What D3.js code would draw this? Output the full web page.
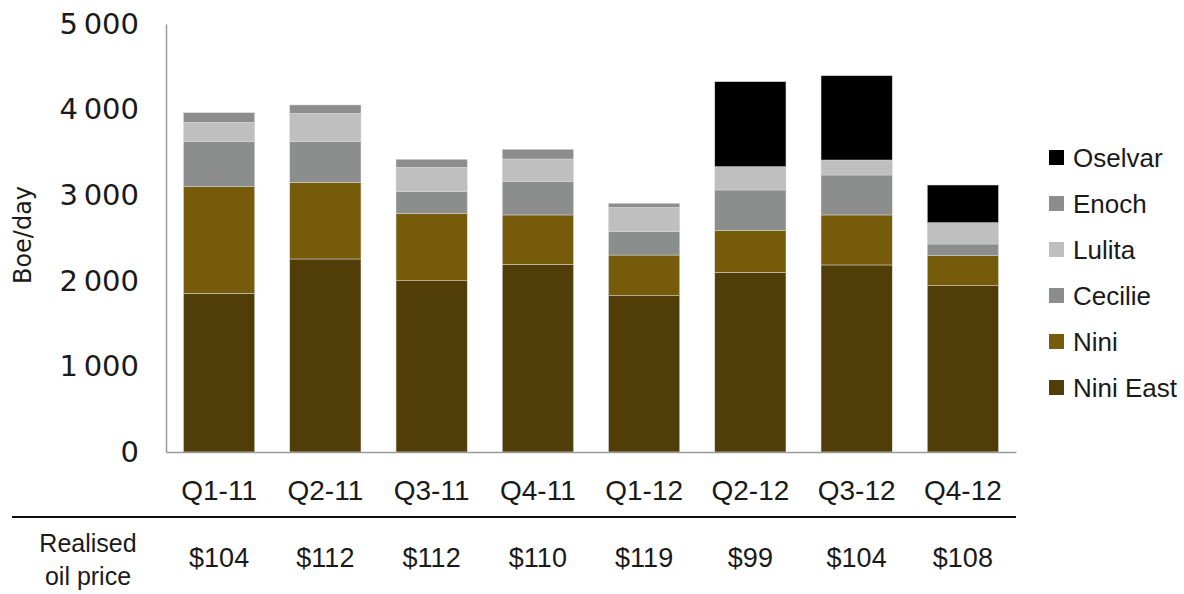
<!DOCTYPE html>
<html>
<head>
<meta charset="utf-8">
<script src="https://cdn.jsdelivr.net/npm/d3@7"></script>
<style>
  body { margin: 0; background: #fff; }
  svg { display: block; }
  text { fill: #1a1a1a; }
</style>
</head>
<body>
<div class="container"></div>
<script>
const WIDTH = 1184;
const HEIGHT = 594;

// data (boe/day)
const quarters = ['Q1-11', 'Q2-11', 'Q3-11', 'Q4-11', 'Q1-12', 'Q2-12', 'Q3-12', 'Q4-12'];
const niniEast = [1854, 2255, 2001, 2193, 1826, 2099, 2185, 1943];
const nini     = [1245, 896, 788, 576, 475, 486, 584, 350];
const cecilie  = [526, 474, 252, 389, 273, 476, 467, 137];
const lulita   = [227, 332, 285, 265, 285, 272, 175, 249];
const enoch    = [112, 97, 93, 113, 46, 0, 0, 0];
const oselvar  = [0, 0, 0, 0, 0, 993, 985, 440];
const prices   = ['$104', '$112', '$112', '$110', '$119', '$99', '$104', '$108'];
const yTicks   = [0, 1000, 2000, 3000, 4000, 5000];

// bottom to top
const seriesNames = ['Nini East', 'Nini', 'Cecilie', 'Lulita', 'Enoch', 'Oselvar'];
const seriesVals  = [niniEast, nini, cecilie, lulita, enoch, oselvar];
const colors      = ['#503d07', '#765b0a', '#8c8e8d', '#bfbfbf', '#8d8d8d', '#000000'];

var rows = quarters.map(function(q, i) {
	var r = {quarter: q};
	seriesNames.forEach(function(n, k) { r[n] = seriesVals[k][i]; });
	return r;
});

var stacked = d3.stack().keys(seriesNames)(rows);

var svg = d3.select('.container').append('svg')
	.attr('width', WIDTH)
	.attr('height', HEIGHT);

var x = d3.scaleBand()
	.domain(quarters)
	.range([166, 1016])
	.paddingInner(0.33)
	.paddingOuter(0.165);

var y = d3.scaleLinear()
	.domain([0, 5000])
	.range([452, 24]);

// bars
svg.append('g').selectAll('g')
	.data(stacked)
	.join('g')
	.attr('fill', function(d, i) { return colors[i]; })
	.selectAll('rect')
	.data(function(d) { return d.filter(function(s) { return s[1] - s[0] > 0; }); })
	.join('rect')
	.attr('x', function(d) { return x(d.data.quarter); })
	.attr('y', function(d) { return y(d[1]); })
	.attr('width', x.bandwidth())
	.attr('height', function(d) { return y(d[0]) - y(d[1]); })
	.attr('stroke', '#d8d8d8')
	.attr('stroke-width', 0.5);

// y axis
var yAxis = d3.axisLeft(y).tickValues(yTicks).tickSize(0).tickPadding(27)
	.tickFormat(function(d) { return d3.format(',')(d).replace(',', '\u2009'); });

var gy = svg.append('g')
	.attr('transform', 'translate(166,0)')
	.call(yAxis);
gy.select('.domain').attr('stroke', '#9a9a9a').attr('stroke-width', 1.5);
gy.selectAll('text')
	.attr('font-family', 'DejaVu Sans, sans-serif')
	.attr('font-size', 29)
	.attr('fill', '#1a1a1a');

// x axis
var xAxis = d3.axisBottom(x).tickSize(0).tickPadding(28);
var gx = svg.append('g')
	.attr('transform', 'translate(0,452)')
	.call(xAxis);
gx.select('.domain').attr('stroke', '#9a9a9a').attr('stroke-width', 1.5);
gx.selectAll('text')
	.attr('font-family', 'Liberation Sans, Arial, sans-serif')
	.attr('font-size', 28)
	.attr('fill', '#1a1a1a');

// y title
svg.append('text')
	.attr('transform', 'translate(31,235) rotate(-90)')
	.attr('text-anchor', 'middle')
	.attr('font-family', 'DejaVu Sans, sans-serif')
	.attr('font-size', 24)
	.text('Boe/day');

// price table
svg.append('line')
	.attr('x1', 12).attr('x2', 1016)
	.attr('y1', 517).attr('y2', 517)
	.attr('stroke', '#111').attr('stroke-width', 2);

svg.append('g').selectAll('text')
	.data(prices)
	.join('text')
	.attr('x', function(d, i) { return x(quarters[i]) + x.bandwidth() / 2; })
	.attr('y', 567)
	.attr('text-anchor', 'middle')
	.attr('font-family', 'Liberation Sans, Arial, sans-serif')
	.attr('font-size', 27)
	.text(function(d) { return d; });

var lab = svg.append('text')
	.attr('text-anchor', 'middle')
	.attr('font-family', 'Liberation Sans, Arial, sans-serif')
	.attr('font-size', 25);
lab.append('tspan').attr('x', 88).attr('y', 552).text('Realised');
lab.append('tspan').attr('x', 88).attr('y', 585).text('oil price');

// legend, top entry first
var legendNames = seriesNames.slice().reverse();
var legendColors = colors.slice().reverse();
var lg = svg.append('g').selectAll('g')
	.data(legendNames)
	.join('g')
	.attr('transform', function(d, i) { return 'translate(1049,' + (158 + i * 46) + ')'; });
lg.append('rect')
	.attr('x', 0).attr('y', -8)
	.attr('width', 15).attr('height', 15)
	.attr('fill', function(d, i) { return legendColors[i]; });
lg.append('text')
	.attr('x', 24).attr('y', 0)
	.attr('dy', '0.36em')
	.attr('font-family', 'Liberation Sans, Arial, sans-serif')
	.attr('font-size', 26)
	.text(function(d) { return d; });
</script>
</body>
</html>
